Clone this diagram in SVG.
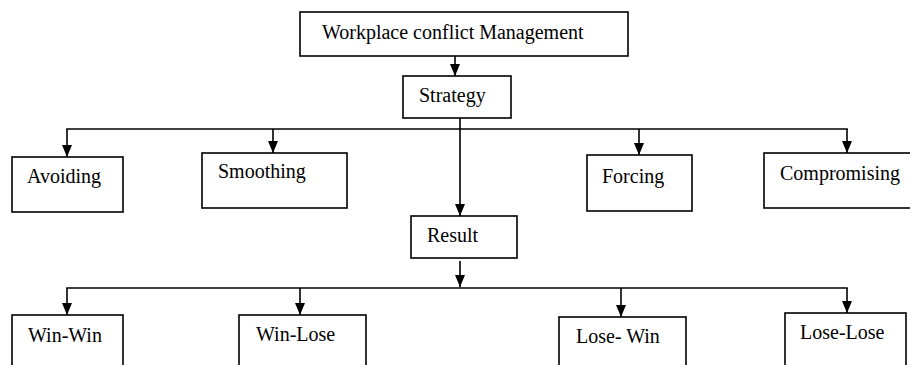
<svg xmlns="http://www.w3.org/2000/svg" width="910" height="365" viewBox="0 0 910 365">
<style>
.box{fill:#fff;stroke:#000;stroke-width:1.6}
.t{font-family:"Liberation Serif","Times New Roman",serif;font-size:20px;fill:#000}
.c{stroke:#000;stroke-width:1.6;fill:none}
</style>
<defs>
<marker id="ah" viewBox="0 0 12 10" refX="12" refY="5" markerWidth="12" markerHeight="10" markerUnits="userSpaceOnUse" orient="auto">
<path d="M0,0 L12,5 L0,10 z" fill="#000"/>
</marker>
</defs>
<rect width="910" height="365" fill="#fff"/>
<g id="connectors">
<line class="c" x1="455" y1="56" x2="455" y2="76" marker-end="url(#ah)"/>
<line class="c" x1="460" y1="118" x2="460" y2="216" marker-end="url(#ah)"/>
<line class="c" x1="66.2" y1="129" x2="847.8" y2="129"/>
<line class="c" x1="67" y1="129" x2="67" y2="157" marker-end="url(#ah)"/>
<line class="c" x1="273" y1="129" x2="273" y2="153" marker-end="url(#ah)"/>
<line class="c" x1="639" y1="129" x2="639" y2="155" marker-end="url(#ah)"/>
<line class="c" x1="847" y1="129" x2="847" y2="153" marker-end="url(#ah)"/>
<line class="c" x1="460" y1="261" x2="460" y2="287" marker-end="url(#ah)"/>
<line class="c" x1="66.2" y1="288" x2="847.8" y2="288"/>
<line class="c" x1="67" y1="288" x2="67" y2="315" marker-end="url(#ah)"/>
<line class="c" x1="300" y1="288" x2="300" y2="315" marker-end="url(#ah)"/>
<line class="c" x1="621" y1="288" x2="621" y2="317" marker-end="url(#ah)"/>
<line class="c" x1="847" y1="288" x2="847" y2="313" marker-end="url(#ah)"/>
</g>
<g id="management">
<rect class="box" x="300" y="12" width="328" height="44"/>
<text class="t" x="322" y="39">Workplace conflict Management</text>
</g>
<g id="strategy">
<rect class="box" x="403" y="76" width="108" height="42"/>
<text class="t" x="419" y="102">Strategy</text>
</g>
<g id="avoiding">
<rect class="box" x="12" y="157" width="111" height="55"/>
<text class="t" x="27" y="183">Avoiding</text>
</g>
<g id="smoothing">
<rect class="box" x="202" y="153" width="145" height="55"/>
<text class="t" x="218" y="178">Smoothing</text>
</g>
<g id="forcing">
<rect class="box" x="587" y="155" width="105" height="56"/>
<text class="t" x="602" y="183">Forcing</text>
</g>
<g id="compromising">
<rect class="box" x="764" y="153" width="160" height="55"/>
<text class="t" x="780" y="180">Compromising</text>
</g>
<g id="result">
<rect class="box" x="411" y="216" width="106" height="42"/>
<text class="t" x="427" y="242">Result</text>
</g>
<g id="winwin">
<rect class="box" x="12" y="315" width="111" height="70"/>
<text class="t" x="28" y="342">Win-Win</text>
</g>
<g id="winlose">
<rect class="box" x="239" y="315" width="127" height="70"/>
<text class="t" x="256" y="341">Win-Lose</text>
</g>
<g id="losewin">
<rect class="box" x="559" y="317" width="127" height="70"/>
<text class="t" x="576" y="343">Lose- Win</text>
</g>
<g id="loselose">
<rect class="box" x="785" y="313" width="121" height="70"/>
<text class="t" x="800" y="339">Lose-Lose</text>
</g>
</svg>
